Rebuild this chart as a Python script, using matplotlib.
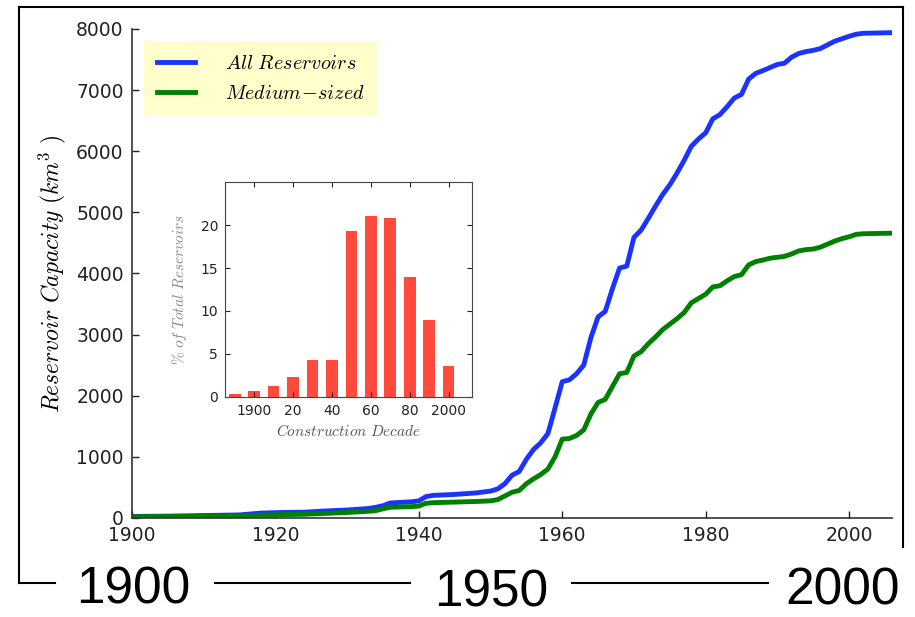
import matplotlib
matplotlib.use('Agg')
import matplotlib.pyplot as plt
from matplotlib.lines import Line2D

plt.rcParams['mathtext.fontset'] = 'cm'
plt.rcParams['font.family'] = ['DejaVu Sans']

# cumulative reservoir capacity (km^3)
years = [1900, 1905, 1910, 1915, 1918, 1921, 1924, 1927, 1930, 1933, 1934, 1935,
         1936, 1939, 1940, 1941, 1942, 1945, 1948, 1950, 1951, 1952, 1953, 1954,
         1955, 1956, 1957, 1958, 1959, 1960, 1961, 1962, 1963, 1964, 1965, 1966,
         1967, 1968, 1969, 1970, 1971, 1972, 1973, 1974, 1975, 1976, 1977, 1978,
         1979, 1980, 1981, 1982, 1983, 1984, 1985, 1986, 1987, 1988, 1989, 1990,
         1991, 1992, 1993, 1994, 1995, 1996, 1997, 1998, 1999, 2000, 2001, 2002,
         2004, 2006]
all_res = [25, 30, 40, 50, 80, 90, 95, 115, 130, 155, 175, 200,
           245, 265, 280, 350, 370, 385, 410, 440, 475, 560, 700, 760,
           960, 1120, 1230, 1380, 1800, 2230, 2260, 2360, 2500, 2950, 3290, 3380,
           3750, 4090, 4120, 4590, 4710, 4900, 5100, 5290, 5450, 5640, 5850, 6080,
           6200, 6300, 6530, 6600, 6730, 6870, 6930, 7180, 7275, 7320, 7370, 7420,
           7440, 7540, 7600, 7630, 7650, 7680, 7740, 7800, 7840, 7880, 7915, 7930,
           7935, 7940]
medium = [20, 22, 28, 35, 45, 55, 60, 75, 90, 110, 120, 150,
          175, 185, 195, 240, 250, 260, 270, 280, 300, 360, 420, 450,
          560, 640, 710, 800, 1000, 1290, 1300, 1350, 1440, 1700, 1890, 1940,
          2150, 2360, 2380, 2650, 2720, 2850, 2960, 3080, 3170, 3260, 3360, 3520,
          3590, 3660, 3780, 3800, 3880, 3950, 3980, 4140, 4195, 4220, 4250, 4265,
          4280, 4320, 4370, 4390, 4400, 4430, 4480, 4530, 4570, 4600, 4640, 4650,
          4655, 4660]

# inset histogram
decades = [1890, 1900, 1910, 1920, 1930, 1940, 1950, 1960, 1970, 1980, 1990, 2000]
pct_res = [0.3, 0.7, 1.3, 2.3, 4.3, 4.3, 19.3, 21.0, 20.8, 13.9, 9.0, 3.6]
inset_ticks = [1900, 1920, 1940, 1960, 1980, 2000]
inset_labels = ['1900', '20', '40', '60', '80', '2000']

timeline = ['1900', '1950', '2000']

fig = plt.figure(figsize=(9.15, 6.17), dpi=100)

ax = fig.add_axes([0.1443, 0.1605, 0.8306, 0.7925])
ax.plot(years, all_res, color='#1a33ff', lw=3.5, label=r'$All\ Reservoirs$')
ax.plot(years, medium, color='#008000', lw=3.5, label=r'$Medium\!-\!sized$')
ax.set_xlim(1900, 2006)
ax.set_ylim(0, 8000)
ax.set_xticks(range(1900, 2001, 20))
ax.set_yticks(range(0, 8001, 1000))
ax.spines['top'].set_visible(False)
ax.spines['right'].set_visible(False)
for s in ['left', 'bottom']:
    ax.spines[s].set_linewidth(1.2)
    ax.spines[s].set_color('#333333')
ax.tick_params(direction='in', length=5, width=1, labelsize=13.5, pad=6,
               colors='#222222')
ax.set_ylabel(r'$Reservoir\ Capacity\ (km^3\ )$', fontsize=17, labelpad=6)

leg = ax.legend(loc='upper left', bbox_to_anchor=(0.016, 0.975), borderaxespad=0,
                fontsize=14.5, frameon=True, fancybox=False, handlelength=1.85,
                handletextpad=1.5, borderpad=0.65, labelspacing=0.55)
leg.get_frame().set_facecolor('#ffffcc')
leg.get_frame().set_edgecolor('none')
leg.get_frame().set_alpha(1)

ins = fig.add_axes([0.2459, 0.3566, 0.2699, 0.3484])
ins.bar(decades, pct_res, width=6, color='#ff4a3d', edgecolor='none')
ins.set_xlim(1885, 2012)
ins.set_ylim(0, 25)
ins.set_xticks(inset_ticks)
ins.set_xticklabels(inset_labels)
ins.set_yticks([0, 5, 10, 15, 20])
ins.tick_params(direction='in', length=3.5, labelsize=10, pad=5, top=True,
                right=True, colors='#222222')
for s in ins.spines.values():
    s.set_color('#444444')
ins.set_xlabel(r'$Construction\ Decade$', fontsize=11, color='#555555', labelpad=4)
ins.set_ylabel(r'$\%\ of\ Total\ Reservoirs$', fontsize=11, color='#888888',
               labelpad=8)

# outer frame and bottom timeline
frame_segments = [
    ([0.0208, 0.0208], [0.0551, 0.9887]),
    ([0.0208, 0.9869], [0.9887, 0.9887]),
    ([0.9869, 0.9869], [0.1135, 0.9887]),
    ([0.0208, 0.060], [0.0551, 0.0551]),
    ([0.235, 0.448], [0.0551, 0.0551]),
    ([0.625, 0.839], [0.0551, 0.0551]),
]
for xs, ys in frame_segments:
    fig.add_artist(Line2D(xs, ys, transform=fig.transFigure, color='black', lw=1.5))

for label, xc, yc in zip(timeline, [0.1454, 0.5366, 0.9213], [0.044, 0.039, 0.042]):
    fig.text(xc, yc, label, fontsize=37, family='Liberation Sans',
             ha='center', va='center')

fig.savefig('out.png', dpi=100)
